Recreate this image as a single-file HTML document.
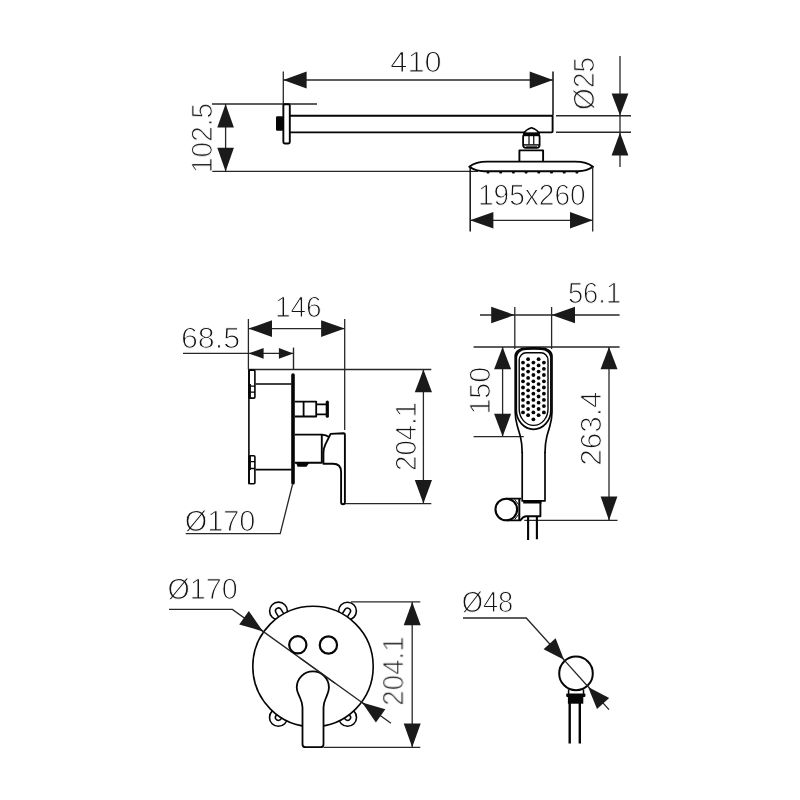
<!DOCTYPE html>
<html><head><meta charset="utf-8"><title>Shower set dimensions</title>
<style>
html,body{margin:0;padding:0;background:#fff}
svg{display:block}
text{font-family:"Liberation Sans",sans-serif;fill:#151515;stroke:#fff;stroke-width:1.0px;paint-order:fill stroke;text-rendering:geometricPrecision}
.txt{opacity:0.999}
.t{stroke:#272727;stroke-width:1.3;fill:none}
.t2{stroke:#272727;stroke-width:1.4;fill:none}
.o{stroke:#050505;stroke-width:1.9;fill:none;stroke-linejoin:round}
.t3{stroke:#111;stroke-width:1.5;fill:none}
.o2{stroke:#050505;stroke-width:1.4;fill:none}
.ar{fill:#1a1a1a;stroke:none}
.fillk{fill:#050505;stroke:none}
</style></head><body>
<svg width="800" height="800" viewBox="0 0 800 800">
<rect width="800" height="800" fill="#fff"/>
<line class="t" x1="283.30" y1="71.60" x2="283.30" y2="104.00"/>
<line class="t3" x1="553.00" y1="71.60" x2="553.00" y2="115.00"/>
<line class="t" x1="283.30" y1="80.00" x2="553.00" y2="80.00"/>
<polygon class="ar" points="283.30,80.00 306.60,71.60 306.60,88.40"/>
<polygon class="ar" points="553.00,80.00 529.70,88.40 529.70,71.60"/>
<line class="t" x1="212.00" y1="104.00" x2="317.00" y2="104.00"/>
<line class="t" x1="212.00" y1="171.40" x2="478.00" y2="171.40"/>
<line class="t" x1="225.60" y1="104.00" x2="225.60" y2="171.40"/>
<polygon class="ar" points="225.60,104.00 233.90,127.60 217.30,127.60"/>
<polygon class="ar" points="225.60,171.40 217.30,147.80 233.90,147.80"/>
<rect class="o" x="283.35" y="104.2" width="6.45" height="39.3" rx="1.4"/>
<rect x="276" y="116.2" width="7" height="14.5" rx="1.2" fill="#050505"/>
<path class="o" d="M290,115.75 H552.6 V131.6 Q552.6,132.4 551.6,132.4 H290" />
<line class="t2" x1="556.00" y1="115.80" x2="631.00" y2="115.80"/>
<line class="t2" x1="556.00" y1="132.20" x2="631.00" y2="132.20"/>
<line class="t" x1="620.00" y1="56.00" x2="620.00" y2="167.00"/>
<polygon class="ar" points="620.00,115.60 611.60,93.60 628.40,93.60"/>
<polygon class="ar" points="620.00,132.40 628.40,155.40 611.60,155.40"/>
<path class="o" d="M523.9,133.4 Q526,129.4 531.5,127.7 Q537,129.4 539.1,133.4 Z" style="fill:#fff;stroke-width:1.7"/>
<rect class="o" x="523.1" y="134.2" width="16.5" height="13.7" rx="2.8" style="fill:#fff;stroke-width:1.8"/>
<rect x="523.2" y="132.7" width="16.3" height="3.5" fill="#050505"/>
<path class="o" d="M529,136 V144.6 M533.75,136 V144.6" style="stroke-width:1.2"/>
<path class="o" d="M523.6,144.9 H539.1" style="stroke-width:1.4"/>
<path class="o" d="M526,146.75 H537" style="stroke-width:0.9"/>
<path class="o" d="M519.4,161.5 V150.4 H543.1 V161.5" style="fill:#fff"/>
<path class="o" d="M469.3,166.8 C473.3,163.5 480.3,161.6 487.3,161.6 H575 C582,161.6 589,163.5 593,166.8 C589,169.6 584,171.2 578,171.2 H484.3 C478.3,171.2 473.3,169.6 469.3,166.8 Z" style="fill:#fff"/>
<ellipse cx="488.0" cy="172.4" rx="1.4" ry="1.2" fill="#050505"/>
<ellipse cx="500.7" cy="172.4" rx="1.4" ry="1.2" fill="#050505"/>
<ellipse cx="513.4" cy="172.4" rx="1.4" ry="1.2" fill="#050505"/>
<ellipse cx="526.1" cy="172.4" rx="1.4" ry="1.2" fill="#050505"/>
<ellipse cx="538.8" cy="172.4" rx="1.4" ry="1.2" fill="#050505"/>
<ellipse cx="551.5" cy="172.4" rx="1.4" ry="1.2" fill="#050505"/>
<ellipse cx="564.2" cy="172.4" rx="1.4" ry="1.2" fill="#050505"/>
<ellipse cx="576.9" cy="172.4" rx="1.4" ry="1.2" fill="#050505"/>
<line class="t3" x1="470.20" y1="167.00" x2="470.20" y2="231.60"/>
<line class="t" x1="592.70" y1="167.00" x2="592.70" y2="231.60"/>
<line class="t" x1="470.00" y1="220.30" x2="592.80" y2="220.30"/>
<polygon class="ar" points="470.00,220.30 493.40,212.10 493.40,228.50"/>
<polygon class="ar" points="592.80,220.30 570.00,228.50 570.00,212.10"/>
<line class="t" x1="248.40" y1="319.00" x2="248.40" y2="369.40"/>
<line class="t" x1="344.70" y1="319.00" x2="344.70" y2="430.00"/>
<line class="t" x1="248.40" y1="328.60" x2="344.70" y2="328.60"/>
<polygon class="ar" points="248.40,328.60 272.00,320.30 272.00,336.90"/>
<polygon class="ar" points="344.70,328.60 321.10,336.90 321.10,320.30"/>
<line class="t" x1="183.00" y1="353.40" x2="293.60" y2="353.40"/>
<polygon class="ar" points="248.40,353.40 263.60,348.10 263.60,358.70"/>
<polygon class="ar" points="293.30,353.40 278.90,358.70 278.90,348.10"/>
<line class="t2" x1="293.50" y1="347.60" x2="293.50" y2="369.00"/>
<line class="t" x1="248.40" y1="369.50" x2="431.30" y2="369.50"/>
<line class="t" x1="345.00" y1="503.60" x2="431.30" y2="503.60"/>
<line class="t" x1="423.40" y1="369.50" x2="423.40" y2="503.60"/>
<polygon class="ar" points="423.40,369.50 432.00,392.30 414.80,392.30"/>
<polygon class="ar" points="423.40,503.60 414.80,480.10 432.00,480.10"/>
<path class="o" d="M248.9,369.5 V484.2" style="stroke-width:1.6"/>
<rect class="o" x="249.1" y="370.1" width="5.8" height="28" rx="1.2" style="stroke-width:1.6"/>
<rect class="o" x="249.1" y="455.7" width="5.8" height="28" rx="1.2" style="stroke-width:1.6"/>
<path class="o" d="M250.2,384 V398 M250.2,456 V470" style="stroke-width:1.4"/>
<path class="o" d="M249,386.2 H255 M249,392.2 H255 M249,461.7 H255 M249,468.5 H255" style="stroke-width:1.3"/>
<path class="o" d="M255.5,384 H291.5 M255.5,469.7 H291.5" style="stroke-width:1.7"/>
<line x1="293" y1="375" x2="293" y2="483" stroke="#050505" stroke-width="3.6" stroke-linecap="round"/>
<path class="o" d="M294.8,401.6 H316.2 V416.5 H294.8 M303.6,401.6 V416.5 M316.2,404.3 H326.5 M316.2,414.4 H326.5" style="stroke-width:1.8"/>
<line x1="327.3" y1="402" x2="327.3" y2="416.2" stroke="#050505" stroke-width="3.2" stroke-linecap="round"/>
<path class="o" d="M294.8,434.6 H321.8 V462.8 H294.8" />
<path class="fillk" d="M296,462.6 H309.5 L306.5,466.8 H297.6 Z" />
<path class="o" d="M330.6,433.9 L343.6,433.2 Q344.9,433.2 344.9,434.6 V502.2 Q344.9,504.3 343,504.3 Q341.1,504.3 341.1,502.2 V472 Q341.1,463.8 333,463.8 H323.4 V453 Q323.4,448.5 325.4,444.4 Z" />
<path class="o" d="M321.8,434.6 Q326,434.9 329.2,437" />
<path class="t" d="M292.5,484.5 L280.2,533.7 H185.7" />
<line class="t" x1="480.00" y1="315.00" x2="619.60" y2="315.00"/>
<polygon class="ar" points="514.60,315.00 491.20,323.30 491.20,306.70"/>
<polygon class="ar" points="551.60,315.00 575.00,306.70 575.00,323.30"/>
<line class="t" x1="514.80" y1="307.00" x2="514.80" y2="349.00"/>
<line class="t" x1="551.60" y1="307.00" x2="551.60" y2="349.00"/>
<line class="t" x1="473.60" y1="347.00" x2="619.60" y2="347.00"/>
<line class="t" x1="473.60" y1="436.60" x2="523.75" y2="436.60"/>
<line class="t" x1="502.60" y1="347.00" x2="502.60" y2="436.60"/>
<polygon class="ar" points="502.60,347.00 511.10,369.30 494.10,369.30"/>
<polygon class="ar" points="502.60,436.60 494.10,413.80 511.10,413.80"/>
<line class="t" x1="609.00" y1="347.00" x2="609.00" y2="520.40"/>
<polygon class="ar" points="609.00,347.00 617.50,369.20 600.50,369.20"/>
<polygon class="ar" points="609.00,520.40 600.60,496.40 617.40,496.40"/>
<line class="t" x1="524.30" y1="520.40" x2="617.50" y2="520.40"/>
<path class="o" d="M522.2,452 V500.9 H545.00 V452" style="fill:none;stroke-width:1.7"/>
<path class="o" d="M522.2,453 C522.2,445 521.5,441 520.4,436.6 L517.4,426.3 C516.5,423 515.2,418 515.2,412 V356 A10.8,8 0 0 1 526,348.1 Q533.6,347.5 541.20,348.1 A10.8,8 0 0 1 552.00,356 V412 C552.00,418 550.70,423 549.80,426.3 L546.80,436.6 C545.70,441 545.00,445 545.00,453" style="stroke-width:1.7"/>
<path class="o" d="M516.3,410 V357 A9.7,7.8 0 0 1 526,349.2 Q533.6,348.6 541.20,349.2 A9.7,7.8 0 0 1 550.90,357 V410 A17.3,19.3 0 0 1 516.3,410" style="stroke-width:1.7"/>
<path class="o" d="M519.2,409 V360 A7,7.2 0 0 1 526.2,352.8 H541.00 A7,7.2 0 0 1 548.00,360 V409 A14.4,16.4 0 0 1 519.2,409" style="stroke-width:1.4"/>
<circle cx="523.0" cy="362.6" r="1.9" fill="#050505"/>
<circle cx="523.0" cy="368.8" r="1.9" fill="#050505"/>
<circle cx="523.0" cy="375.0" r="1.9" fill="#050505"/>
<circle cx="523.0" cy="381.3" r="1.9" fill="#050505"/>
<circle cx="523.0" cy="387.5" r="1.9" fill="#050505"/>
<circle cx="523.0" cy="393.7" r="1.9" fill="#050505"/>
<circle cx="523.0" cy="399.9" r="1.9" fill="#050505"/>
<circle cx="523.0" cy="406.1" r="1.9" fill="#050505"/>
<circle cx="523.0" cy="412.4" r="1.9" fill="#050505"/>
<circle cx="528.1" cy="359.2" r="1.9" fill="#050505"/>
<circle cx="528.1" cy="365.4" r="1.9" fill="#050505"/>
<circle cx="528.1" cy="371.6" r="1.9" fill="#050505"/>
<circle cx="528.1" cy="377.9" r="1.9" fill="#050505"/>
<circle cx="528.1" cy="384.1" r="1.9" fill="#050505"/>
<circle cx="528.1" cy="390.3" r="1.9" fill="#050505"/>
<circle cx="528.1" cy="396.5" r="1.9" fill="#050505"/>
<circle cx="528.1" cy="402.7" r="1.9" fill="#050505"/>
<circle cx="528.1" cy="409.0" r="1.9" fill="#050505"/>
<circle cx="528.1" cy="415.2" r="1.9" fill="#050505"/>
<circle cx="533.4" cy="362.6" r="1.9" fill="#050505"/>
<circle cx="533.4" cy="368.8" r="1.9" fill="#050505"/>
<circle cx="533.4" cy="375.0" r="1.9" fill="#050505"/>
<circle cx="533.4" cy="381.3" r="1.9" fill="#050505"/>
<circle cx="533.4" cy="387.5" r="1.9" fill="#050505"/>
<circle cx="533.4" cy="393.7" r="1.9" fill="#050505"/>
<circle cx="533.4" cy="399.9" r="1.9" fill="#050505"/>
<circle cx="533.4" cy="406.1" r="1.9" fill="#050505"/>
<circle cx="533.4" cy="412.4" r="1.9" fill="#050505"/>
<circle cx="533.4" cy="419.3" r="1.9" fill="#050505"/>
<circle cx="538.6" cy="359.2" r="1.9" fill="#050505"/>
<circle cx="538.6" cy="365.4" r="1.9" fill="#050505"/>
<circle cx="538.6" cy="371.6" r="1.9" fill="#050505"/>
<circle cx="538.6" cy="377.9" r="1.9" fill="#050505"/>
<circle cx="538.6" cy="384.1" r="1.9" fill="#050505"/>
<circle cx="538.6" cy="390.3" r="1.9" fill="#050505"/>
<circle cx="538.6" cy="396.5" r="1.9" fill="#050505"/>
<circle cx="538.6" cy="402.7" r="1.9" fill="#050505"/>
<circle cx="538.6" cy="409.0" r="1.9" fill="#050505"/>
<circle cx="538.6" cy="415.2" r="1.9" fill="#050505"/>
<circle cx="543.9" cy="362.6" r="1.9" fill="#050505"/>
<circle cx="543.9" cy="368.8" r="1.9" fill="#050505"/>
<circle cx="543.9" cy="375.0" r="1.9" fill="#050505"/>
<circle cx="543.9" cy="381.3" r="1.9" fill="#050505"/>
<circle cx="543.9" cy="387.5" r="1.9" fill="#050505"/>
<circle cx="543.9" cy="393.7" r="1.9" fill="#050505"/>
<circle cx="543.9" cy="399.9" r="1.9" fill="#050505"/>
<circle cx="543.9" cy="406.1" r="1.9" fill="#050505"/>
<circle cx="543.9" cy="412.4" r="1.9" fill="#050505"/>
<line x1="523.2" y1="502.2" x2="541.5" y2="502.2" stroke="#050505" stroke-width="2.6"/>
<circle class="o" cx="506.3" cy="509.5" r="10.8" style="stroke-width:2.1"/>
<path class="o" d="M506.3,498.6 H521.2 M506.3,520.4 H521" style="stroke-width:1.6"/>
<path class="o" d="M519.3,498.6 V520.4" style="stroke-width:2.0"/>
<path class="o" d="M540.4,502 V516.2 H526 Q522.8,516.6 520.6,520.2" style="stroke-width:1.9"/>
<path class="o" d="M514.6,499.4 L518.6,504.6 M514.6,519.6 L518.6,514.4" style="stroke-width:1.0"/>
<path class="o" d="M528.1,516.2 V540 M536.9,516.2 V539.2" style="stroke-width:2.1"/>
<path class="t" d="M169,609.4 H232.4 L391,723.3" />
<circle class="o" cx="278.5" cy="611.0" r="8.9" style="stroke-width:1.6;fill:#fff"/>
<path class="o" d="M282.29,622.78 L275.95,612.58 A3.0,3.0 0 0 1 281.05,609.42 L287.38,619.61" style="stroke-width:1.5"/>
<circle class="o" cx="347.5" cy="611.1" r="8.9" style="stroke-width:1.6;fill:#fff"/>
<path class="o" d="M338.61,619.70 L344.95,609.51 A3.0,3.0 0 0 1 350.05,612.69 L343.70,622.87" style="stroke-width:1.5"/>
<circle class="o" cx="278.4" cy="717.4" r="8.9" style="stroke-width:1.6;fill:#fff"/>
<path class="o" d="M287.63,709.16 L280.88,719.09 A3.0,3.0 0 0 1 275.92,715.71 L282.67,705.79" style="stroke-width:1.5"/>
<circle class="o" cx="347.6" cy="717.4" r="8.9" style="stroke-width:1.6;fill:#fff"/>
<path class="o" d="M343.33,705.79 L350.08,715.71 A3.0,3.0 0 0 1 345.12,719.09 L338.37,709.16" style="stroke-width:1.5"/>
<circle class="o" cx="313.0" cy="666.5" r="60.2" style="stroke-width:1.6;fill:#fff"/>
<path class="t" d="M255,625.63 L370,708.2" />
<polygon class="ar" points="263.10,631.45 239.23,624.40 248.80,611.08"/>
<polygon class="ar" points="362.10,702.60 385.34,709.33 375.89,722.48"/>
<circle class="o" cx="297.8" cy="644.8" r="8.65" style="stroke-width:2.2;fill:#fff"/>
<circle class="o" cx="328.4" cy="645" r="8.65" style="stroke-width:2.2;fill:#fff"/>
<path class="o" d="M302.5,744.2 V707.5 C302.5,703 301.2,700.5 299.7,697 C298.2,693.5 296.75,691.5 296.75,687.5 A16.1,16.1 0 0 1 328.95,687.5 C328.95,691.5 327.8,693.5 326.3,697 C324.8,700.5 323.5,703 323.5,707.5 V744.2 Q323.5,747.2 320.5,747.2 H305.5 Q302.5,747.2 302.5,744.2 Z" style="fill:#fff;stroke-width:1.8"/>
<path class="t" d="M300,658.05 L335,683.18" />
<line class="t" x1="351.00" y1="601.90" x2="420.30" y2="601.90"/>
<line class="t" x1="323.50" y1="747.30" x2="420.30" y2="747.30"/>
<line class="t" x1="412.20" y1="601.90" x2="412.20" y2="747.30"/>
<polygon class="ar" points="412.20,601.90 420.70,625.30 403.70,625.30"/>
<polygon class="ar" points="412.20,747.30 403.70,723.50 420.70,723.50"/>
<path class="t" d="M463,618 H526.25 L609,709.6" />
<circle class="o" cx="576" cy="673.4" r="16.8" style="stroke-width:2;fill:#fff"/>
<path class="t" d="M564,659.9 L588.1,686.8" />
<polygon class="ar" points="564.00,659.75 543.58,649.23 555.60,638.37"/>
<polygon class="ar" points="588.10,686.90 609.20,698.02 597.03,709.02"/>
<path class="o" d="M568.6,689.5 V694 M583.5,689.5 V694" style="stroke-width:1.5"/>
<rect x="566.2" y="693.6" width="19.2" height="3.4" rx="1" fill="#050505"/>
<rect x="567.9" y="694" width="15.4" height="9.7" fill="#050505"/>
<path class="o" d="M569.7,703 V743.4 M579.8,703 V743.4" style="stroke-width:2.4"/>
<g class="txt">
<text x="390.30" y="72.00" font-size="29.4" textLength="51.40" lengthAdjust="spacingAndGlyphs">410</text>
<text transform="translate(212.00 173.10) rotate(-90)" x="0" y="0" font-size="29.4" textLength="70.20" lengthAdjust="spacingAndGlyphs">102.5</text>
<text transform="translate(594.00 110.10) rotate(-90)" x="0" y="0" font-size="29.4" textLength="53.20" lengthAdjust="spacingAndGlyphs">Ø25</text>
<text x="477.90" y="205.30" font-size="29.4" textLength="107.80" lengthAdjust="spacingAndGlyphs">195x260</text>
<text x="274.90" y="317.30" font-size="29.4" textLength="46.80" lengthAdjust="spacingAndGlyphs">146</text>
<text x="180.90" y="347.50" font-size="29.4" textLength="59.20" lengthAdjust="spacingAndGlyphs">68.5</text>
<text transform="translate(416.00 470.90) rotate(-90)" x="0" y="0" font-size="29.4" textLength="69.00" lengthAdjust="spacingAndGlyphs">204.1</text>
<text x="184.70" y="530.60" font-size="29.4" textLength="70.70" lengthAdjust="spacingAndGlyphs">Ø170</text>
<text x="567.90" y="303.20" font-size="29.4" textLength="53.20" lengthAdjust="spacingAndGlyphs">56.1</text>
<text transform="translate(490.00 414.60) rotate(-90)" x="0" y="0" font-size="29.4" textLength="47.70" lengthAdjust="spacingAndGlyphs">150</text>
<text transform="translate(601.00 465.70) rotate(-90)" x="0" y="0" font-size="29.4" textLength="74.20" lengthAdjust="spacingAndGlyphs">263.4</text>
<text x="167.50" y="599.30" font-size="29.4" textLength="70.20" lengthAdjust="spacingAndGlyphs">Ø170</text>
<text transform="translate(403.30 705.80) rotate(-90)" x="0" y="0" font-size="29.4" textLength="69.50" lengthAdjust="spacingAndGlyphs">204.1</text>
<text x="461.65" y="611.80" font-size="29.4" textLength="51.70" lengthAdjust="spacingAndGlyphs">Ø48</text>
</g>
</svg>
</body></html>
